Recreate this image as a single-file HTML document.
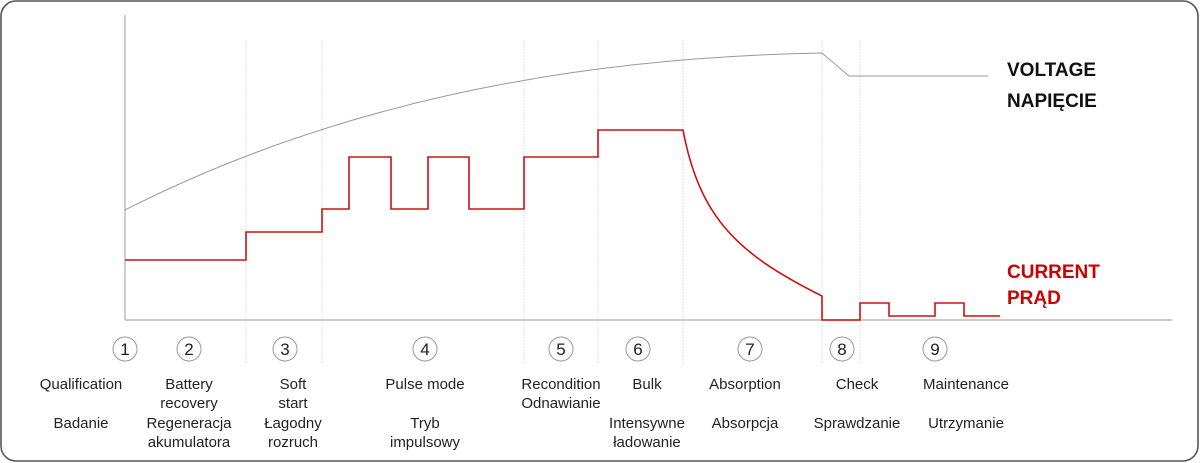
<!DOCTYPE html>
<html><head><meta charset="utf-8"><style>
html,body{margin:0;padding:0;background:#fff}
svg{display:block}
text{font-family:"Liberation Sans",sans-serif}
</style></head><body>
<svg width="1200" height="463" viewBox="0 0 1200 463">
<rect x="1" y="1" width="1197" height="460" rx="15" fill="#fff" stroke="#555" stroke-width="1.6"/>
<g stroke="#e2e2e2" stroke-width="1" stroke-dasharray="2,1">
<line x1="246" y1="40" x2="246" y2="365"/>
<line x1="322" y1="40" x2="322" y2="365"/>
<line x1="524" y1="40" x2="524" y2="365"/>
<line x1="598" y1="40" x2="598" y2="365"/>
<line x1="683" y1="40" x2="683" y2="365"/>
<line x1="822" y1="40" x2="822" y2="365"/>
<line x1="860" y1="40" x2="860" y2="365"/>
</g>
<line x1="125" y1="15" x2="125" y2="320" stroke="#bbb" stroke-width="1.5"/>
<line x1="125" y1="320" x2="1172" y2="320" stroke="#bbb" stroke-width="1.5"/>
<path d="M125,210 Q420,60 822,53 L849,76 L988,76" fill="none" stroke="#999" stroke-width="1"/>
<path d="M125,260 H246 V232 H322 V209 H349 V157 H391 V209 H428 V157 H469 V209 H524 V157 H598 V130 H683 C700,220 740,255 822,296 V320 H860 V303 H889 V316 H935 V303 H964 V316 H1000" fill="none" stroke="#d01010" stroke-width="1.6"/>
<g font-weight="bold" font-size="19">
<text x="1007" y="76" fill="#111">VOLTAGE</text>
<text x="1007" y="107" fill="#111">NAPIĘCIE</text>
<text x="1007" y="278" fill="#cc0000">CURRENT</text>
<text x="1007" y="304" fill="#cc0000">PRĄD</text>
</g>
<g fill="none" stroke="#999" stroke-width="1">
<circle cx="125" cy="349" r="12"/><circle cx="189" cy="349" r="12"/><circle cx="285" cy="349" r="12"/>
<circle cx="425" cy="349" r="12"/><circle cx="561" cy="349" r="12"/><circle cx="638" cy="349" r="12"/>
<circle cx="750" cy="349" r="12"/><circle cx="842" cy="349" r="12"/><circle cx="935" cy="349" r="12"/>
</g>
<g font-size="17" fill="#222" text-anchor="middle">
<text x="125" y="355">1</text><text x="189" y="355">2</text><text x="285" y="355">3</text>
<text x="425" y="355">4</text><text x="561" y="355">5</text><text x="638" y="355">6</text>
<text x="750" y="355">7</text><text x="842" y="355">8</text><text x="935" y="355">9</text>
</g>
<g font-size="15" fill="#222" text-anchor="middle">
<text x="81" y="389">Qualification</text><text x="81" y="428">Badanie</text>
<text x="189" y="389">Battery</text><text x="189" y="408">recovery</text><text x="189" y="428">Regeneracja</text><text x="189" y="447">akumulatora</text>
<text x="293" y="389">Soft</text><text x="293" y="408">start</text><text x="293" y="428">Łagodny</text><text x="293" y="447">rozruch</text>
<text x="425" y="389">Pulse mode</text><text x="425" y="428">Tryb</text><text x="425" y="447">impulsowy</text>
<text x="561" y="389">Recondition</text><text x="561" y="408">Odnawianie</text>
<text x="647" y="389">Bulk</text><text x="647" y="428">Intensywne</text><text x="647" y="447">ładowanie</text>
<text x="745" y="389">Absorption</text><text x="745" y="428">Absorpcja</text>
<text x="857" y="389">Check</text><text x="857" y="428">Sprawdzanie</text>
<text x="966" y="389">Maintenance</text><text x="966" y="428">Utrzymanie</text>
</g>
</svg>
</body></html>
